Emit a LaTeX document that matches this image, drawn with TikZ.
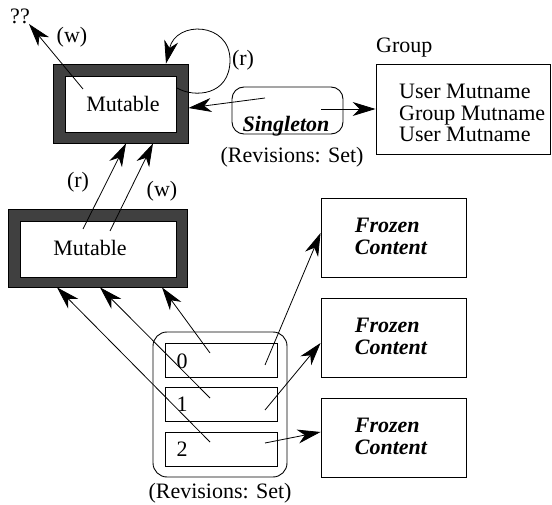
\documentclass[tikz,border=0pt]{standalone}
\usepackage{fontspec}
\setmainfont{Liberation Serif}
\usetikzlibrary{arrows.meta}
\definecolor{darkframe}{HTML}{404040}
\tikzset{
  txt/.style={font=\fontsize{22}{22}\selectfont, inner sep=0pt},
  btxt/.style={font=\fontsize{22}{22}\selectfont\bfseries\itshape, inner sep=0pt},
  outerbox/.style={draw=black, fill=darkframe, line width=0.8pt, rectangle, inner sep=0pt},
  innerbox/.style={draw=black, fill=white, line width=0.8pt, rectangle, inner sep=0pt},
  plainbox/.style={draw=black, line width=0.9pt, rectangle, inner sep=0pt},
  roundbox/.style={draw=black, line width=0.9pt, rectangle, rounded corners=12pt, inner sep=0pt},
  arr/.style={line width=0.8pt, -{Stealth[length=23pt,width=14pt,inset=7pt]}},
}
\begin{document}
\begin{tikzpicture}[x=1pt,y=-1pt]
\useasboundingbox (0,0) rectangle (552,505);

% top mutable
\node[outerbox, minimum width=135pt, minimum height=79pt] (m1o) at (120.5,103.5) {};
\node[innerbox, minimum width=111pt, minimum height=56pt] (m1i) at (120.5,104) {};
\node[txt] (m1t) at (123,104) {Mutable};

% second mutable
\node[outerbox, minimum width=179pt, minimum height=78pt] (m2o) at (97.5,248) {};
\node[innerbox, minimum width=156pt, minimum height=56pt] (m2i) at (98,249) {};
\node[txt] (m2t) at (90,248) {Mutable};

% singleton
\node[roundbox, minimum width=111pt, minimum height=47pt] (sg) at (287.5,110.5) {};
\node[btxt] (sgt) at (286,126) {Singleton};
\node[txt] (sgl) at (292,157) {(Revisions: Set)};

% group
\node[plainbox, minimum width=174pt, minimum height=90pt] (g) at (463,109) {};
\node[txt, anchor=west] (gl) at (376,48) {Group};
\node[txt, anchor=west, align=left, font=\fontsize{22}{21.5}\selectfont] (gt) at (399,113) {User Mutname\\Group Mutname\\User Mutname};

% frozen boxes
\foreach \i/\y in {1/237.5,2/337.5,3/437.5}{
  \node[plainbox, minimum width=145pt, minimum height=79pt] (f\i) at (393.5,\y) {};
  \node[btxt, align=left, font=\fontsize{22}{22}\selectfont\bfseries\itshape] (ft\i) at (391,\y-1) {Frozen\\Content};
}

% revision set
\node[roundbox, rounded corners=14pt, minimum width=134pt, minimum height=145pt] (rs) at (220,404.5) {};
\node[plainbox, minimum width=112pt, minimum height=34pt] (r0) at (221,360) {};
\node[plainbox, minimum width=112pt, minimum height=34pt] (r1) at (221,404) {};
\node[plainbox, minimum width=112pt, minimum height=34pt] (r2) at (221,449) {};
\node[txt] (r0t) at (182,361) {0};
\node[txt] (r1t) at (182,404) {1};
\node[txt] (r2t) at (182,449) {2};
\node[txt] (rsl) at (220,493) {(Revisions: Set)};

% labels
\node[txt] (qq) at (20,16) {??};
\node[txt] (lw1) at (72,37) {(w)};
\node[txt] (lr1) at (243,60) {(r)};
\node[txt] (lr2) at (78,182) {(r)};
\node[txt] (lw2) at (162,191) {(w)};

% coordinates of free ends
\coordinate (a1) at (83,89);
\coordinate (qtip) at (29,24);
\coordinate (a2) at (177,88);
\coordinate (a3) at (265,98);
\coordinate (a4) at (321,109);
\coordinate (a5) at (83,229);
\coordinate (a6) at (110,231);
\coordinate (b0) at (210,353);
\coordinate (b1) at (210,398);
\coordinate (b2) at (210,442);
\coordinate (c0) at (265,365);
\coordinate (c1) at (265,410);
\coordinate (c2) at (265,443);

% connectors
\draw[arr] (a1) -- (qtip);
\draw[arr] (a2) .. controls (194,98) and (230,96) .. (230,60)
               .. controls (230,22) and (176,20) .. ([xshift=45.5pt]m1o.north);
\draw[arr] (a3) -- ([yshift=-4.5pt]m1o.east);
\draw[arr] (a4) -- (g.west);
\draw[arr] (a5) -- ([xshift=5.5pt]m1o.south);
\draw[arr] (a6) -- ([xshift=32.5pt]m1o.south);
\draw[arr] (b0) -- ([xshift=64.5pt]m2o.south);
\draw[arr] (b1) -- ([xshift=2.5pt]m2o.south);
\draw[arr] (b2) -- ([xshift=-40.5pt]m2o.south);
\draw[arr] (c0) -- ([yshift=4.5pt]f1.west);
\draw[arr] (c1) -- ([yshift=-5.5pt]f2.west);
\draw[arr] (c2) -- ([yshift=5.5pt]f3.west);
\end{tikzpicture}
\end{document}
